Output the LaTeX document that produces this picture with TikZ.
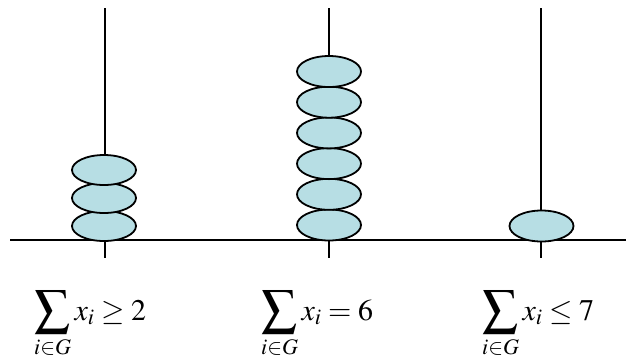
\documentclass[tikz,border=0pt]{standalone}
\usepackage{mathptmx}
\usepackage{graphicx}
\usetikzlibrary{shapes.geometric}
\definecolor{beadfill}{RGB}{183,222,228}
\newcommand{\bigsumG}{\mathop{\vcenter{\hbox{\scalebox{1.17}{$\displaystyle\sum$}}}}\limits_{\scriptstyle i\in G}}
\tikzset{
  rod/.style={line width=1.6pt, black},
  bead/.style={ellipse, draw=black, line width=1.8pt, fill=beadfill, minimum width=64pt, minimum height=31pt, inner sep=0pt},
  formula/.style={anchor=base west, inner sep=0pt, font=\fontsize{30}{36}\selectfont}
}
\begin{document}
\begin{tikzpicture}[x=1pt,y=-1pt]
\useasboundingbox (0,0) rectangle (626,360);
% rods
\coordinate (r1t) at (105,8);   \coordinate (r1b) at (105,258);
\coordinate (r2t) at (329,8);   \coordinate (r2b) at (329,258);
\coordinate (r3t) at (541,8);   \coordinate (r3b) at (541,258);
\coordinate (bl) at (10,240);   \coordinate (br) at (626,240);
\draw[rod] (r1t) -- (r1b);
\draw[rod] (r2t) -- (r2b);
\draw[rod] (r3t) -- (r3b);
\draw[rod] (bl) -- (br);
% left beads
\node[bead, minimum height=30pt] (a1) at (104,226) {};
\node[bead, minimum height=30pt] (a2) at (104,198) {};
\node[bead, minimum height=30pt] (a3) at (104,170) {};
% middle beads
\node[bead] (b1) at (329,225) {};
\node[bead] (b2) at (329,194.3) {};
\node[bead] (b3) at (329,163.6) {};
\node[bead] (b4) at (329,132.9) {};
\node[bead] (b5) at (329,102.2) {};
\node[bead] (b6) at (329,71.5) {};
% right bead
\node[bead] (c1) at (541.5,226) {};
% formulas
\node[formula] (f1) at (34,320) {$\bigsumG x_i \geq 2$};
\node[formula] (f2) at (261,320) {$\bigsumG x_i = 6$};
\node[formula] (f3) at (482,320) {$\bigsumG x_i \leq 7$};
\end{tikzpicture}
\end{document}
